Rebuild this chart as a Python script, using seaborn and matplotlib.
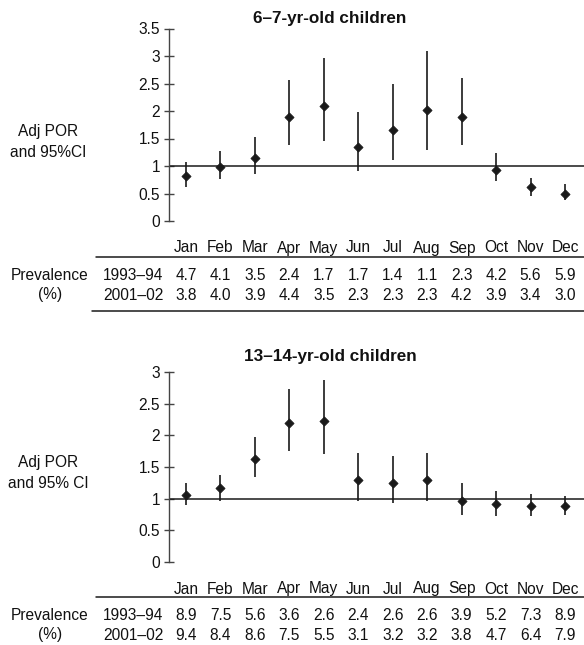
import numpy as np
import pandas as pd
import matplotlib
matplotlib.use("Agg")
import matplotlib.pyplot as plt
import matplotlib.transforms as mtransforms
from matplotlib.lines import Line2D
import seaborn as sns

sns.set_style("white")
plt.rcParams['font.family'] = ['Liberation Sans', 'DejaVu Sans']
plt.rcParams['text.color'] = '#111111'
plt.rcParams['ytick.color'] = '#111111'

months = ["Jan", "Feb", "Mar", "Apr", "May", "Jun", "Jul", "Aug", "Sep", "Oct", "Nov", "Dec"]

# 6-7-yr-old children
por_67 = [0.82, 0.99, 1.14, 1.89, 2.09, 1.34, 1.65, 2.01, 1.89, 0.93, 0.61, 0.50]
lo_67 = [0.61, 0.76, 0.85, 1.39, 1.46, 0.91, 1.11, 1.30, 1.39, 0.73, 0.46, 0.38]
hi_67 = [1.07, 1.28, 1.52, 2.56, 2.97, 1.98, 2.49, 3.09, 2.60, 1.23, 0.79, 0.68]
prev_67_9394 = ["4.7", "4.1", "3.5", "2.4", "1.7", "1.7", "1.4", "1.1", "2.3", "4.2", "5.6", "5.9"]
prev_67_0102 = ["3.8", "4.0", "3.9", "4.4", "3.5", "2.3", "2.3", "2.3", "4.2", "3.9", "3.4", "3.0"]

# 13-14-yr-old children
por_1314 = [1.06, 1.17, 1.63, 2.19, 2.23, 1.29, 1.25, 1.29, 0.97, 0.91, 0.89, 0.88]
lo_1314 = [0.90, 0.97, 1.34, 1.76, 1.71, 0.97, 0.93, 0.97, 0.75, 0.72, 0.72, 0.75]
hi_1314 = [1.25, 1.38, 1.97, 2.73, 2.87, 1.72, 1.67, 1.72, 1.24, 1.12, 1.07, 1.05]
prev_1314_9394 = ["8.9", "7.5", "5.6", "3.6", "2.6", "2.4", "2.6", "2.6", "3.9", "5.2", "7.3", "8.9"]
prev_1314_0102 = ["9.4", "8.4", "8.6", "7.5", "5.5", "3.1", "3.2", "3.2", "3.8", "4.7", "6.4", "7.9"]

W, H = 584, 645
fig = plt.figure(figsize=(W / 100, H / 100), dpi=100)

FS = 11.2
DARK = "#1a1a1a"
BL = 5.5  # pixel offset from text center to baseline


def fy(ypix):
    return 1 - ypix / H


def panel(y_top, y_zero, ymax, yticks, por, lo, hi, r1, r2, title, title_y,
          ylab, ylab_y, month_y, line1_y, row1_y, row2_y, line2_y=None):
    ax = fig.add_axes([169 / W, fy(y_zero), (W - 169) / W, (y_zero - y_top) / H])
    df = pd.DataFrame({"x": np.arange(len(months)), "por": por, "lo": lo, "hi": hi})
    ax.vlines(df["x"], df["lo"], df["hi"], color=DARK, lw=1.2, zorder=2)
    sns.scatterplot(data=df, x="x", y="por", marker="D", s=22, color=DARK,
                    edgecolor=DARK, linewidth=0.5, ax=ax, zorder=3)
    ax.axhline(1, color=DARK, lw=1.1, zorder=1)
    ax.set_xlim(-0.493, 11.55)
    ax.set_ylim(0, ymax)
    ax.set_yticks(yticks)
    ax.set_yticklabels([("%g" % t) for t in yticks], fontsize=FS)
    ax.tick_params(axis="y", left=True, direction="inout", length=7, width=1,
                   color="#444444", labelcolor="#111111", pad=3)
    ax.set_xticks([])
    ax.set_xlabel("")
    ax.set_ylabel("")
    for s in ["top", "right", "bottom"]:
        ax.spines[s].set_visible(False)
    ax.spines["left"].set_color("#444444")
    ax.spines["left"].set_linewidth(1)
    ax.patch.set_alpha(0)

    fig.text(330 / W, fy(title_y), title, ha="center", va="center",
             fontsize=12.3, fontweight="bold")
    fig.text(48 / W, fy(ylab_y), ylab, ha="center", va="center",
             fontsize=FS, linespacing=1.45)

    tr = mtransforms.blended_transform_factory(ax.transData, fig.transFigure)
    for i, m in enumerate(months):
        fig.text(i, fy(month_y + BL), m, ha="center", va="baseline", fontsize=FS, transform=tr)
        fig.text(i, fy(row1_y + BL), r1[i], ha="center", va="baseline", fontsize=FS, transform=tr)
        fig.text(i, fy(row2_y + BL), r2[i], ha="center", va="baseline", fontsize=FS, transform=tr)
    fig.text(50 / W, fy(row1_y + BL), "Prevalence", ha="center", va="baseline", fontsize=FS)
    fig.text(50 / W, fy(row2_y), "(%)", ha="center", va="center", fontsize=FS)
    fig.text(133 / W, fy(row1_y + BL), "1993–94", ha="center", va="baseline", fontsize=FS)
    fig.text(133 / W, fy(row2_y + BL), "2001–02", ha="center", va="baseline", fontsize=FS)
    fig.add_artist(Line2D([96 / W, 1], [fy(line1_y), fy(line1_y)], color=DARK, lw=1.1))
    if line2_y is not None:
        fig.add_artist(Line2D([92 / W, 1], [fy(line2_y), fy(line2_y)], color=DARK, lw=1.1))
    return ax


panel(28.5, 221, 3.5, [0, 0.5, 1, 1.5, 2, 2.5, 3, 3.5], por_67, lo_67, hi_67,
      prev_67_9394, prev_67_0102, "6–7-yr-old children", 19,
      "Adj POR\nand 95%CI", 142, 247, 257, 275, 294, 311)

panel(372, 562, 3, [0, 0.5, 1, 1.5, 2, 2.5, 3], por_1314, lo_1314, hi_1314,
      prev_1314_9394, prev_1314_0102, "13–14-yr-old children", 357,
      "Adj POR\nand 95% CI", 473, 588, 597, 614, 635, None)

fig.savefig("out.png", dpi=100)
